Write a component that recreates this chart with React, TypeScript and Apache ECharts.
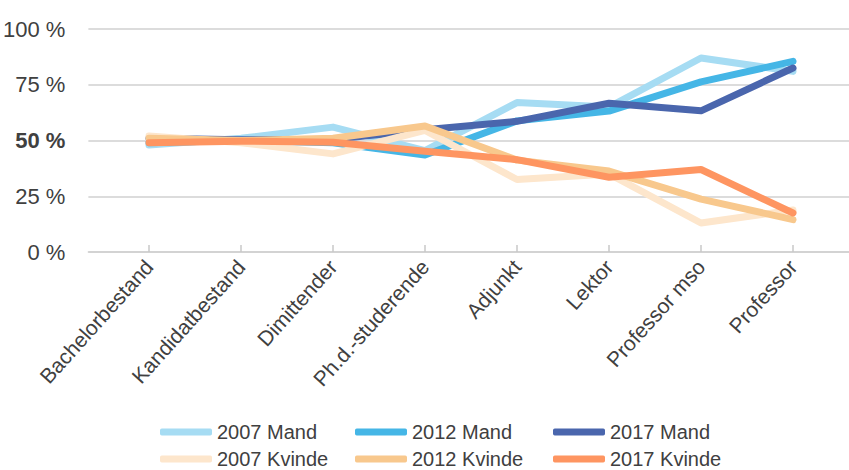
import React, { useEffect, useRef } from "react";
import * as echarts from "echarts";

const categories = [
  "Bachelorbestand",
  "Kandidatbestand",
  "Dimittender",
  "Ph.d.-studerende",
  "Adjunkt",
  "Lektor",
  "Professor mso",
  "Professor",
];

const mand2007 = [48, 51, 56, 45.5, 67, 65, 87, 81];
const mand2012 = [49, 50, 49, 43.5, 58.8, 63.2, 76.3, 85.5];
const mand2017 = [51, 50.3, 50.6, 54.8, 58.6, 66.7, 63.3, 82.5];
const kvinde2007 = [52, 49, 44, 54.5, 32.5, 35, 13, 18.8];
const kvinde2012 = [51, 50, 51, 56.5, 41.2, 36.3, 23.7, 14.5];
const kvinde2017 = [49, 49.7, 49.2, 45.2, 41.4, 33.5, 37, 17.5];

const yTicks = [0, 25, 50, 75, 100];

const FONT = '"Liberation Sans Narrow", "Liberation Sans", sans-serif';

const seriesDefs = [
  { name: "2007 Mand", data: mand2007, color: "#a6dcf3" },
  { name: "2012 Mand", data: mand2012, color: "#45b6e6" },
  { name: "2017 Mand", data: mand2017, color: "#4a66ad" },
  { name: "2007 Kvinde", data: kvinde2007, color: "#fde6cc" },
  { name: "2012 Kvinde", data: kvinde2012, color: "#f8c88d" },
  { name: "2017 Kvinde", data: kvinde2017, color: "#fe9561" },
];

const legendLefts = [160, 355, 553];
const legendTops = [422, 449];

export default function App() {
  const ref = useRef<HTMLDivElement>(null);
  useEffect(() => {
    if (!ref.current) return;
    const chart = echarts.init(ref.current, null, { renderer: "svg" });
    const legends = seriesDefs.map((s, i) => ({
      orient: "horizontal" as const,
      left: legendLefts[i % 3],
      top: legendTops[Math.floor(i / 3)],
      padding: 0,
      itemWidth: 52,
      itemHeight: 7,
      itemGap: 0,
      icon: "roundRect",
      data: [s.name],
      textStyle: {
        fontFamily: FONT,
        fontSize: 20,
        color: "#404040",
      },
    }));
    chart.setOption({
      animation: false,
      backgroundColor: "#ffffff",
      grid: [
        { left: 85, right: 0, top: 29, bottom: 218 },
        { left: 149, right: 56, top: 29, bottom: 218 },
      ],
      xAxis: [
        {
          type: "value",
          gridIndex: 0,
          min: 0,
          max: 1,
          axisLine: { show: true, lineStyle: { color: "#d0d0d0", width: 1.5 } },
          axisTick: { show: false },
          axisLabel: { show: false },
          splitLine: { show: false },
        },
        {
          type: "category",
          gridIndex: 1,
          data: categories,
          boundaryGap: false,
          axisLine: { show: false },
          axisTick: {
            show: true,
            inside: true,
            length: 7,
            lineStyle: { color: "#c8c8c8", width: 1.5 },
          },
          axisLabel: {
            rotate: 48,
            margin: 11,
            fontFamily: FONT,
            fontSize: 21,
            color: "#404040",
            interval: 0,
          },
          splitLine: { show: false },
        },
      ],
      yAxis: [
        {
          type: "value",
          gridIndex: 0,
          min: 0,
          max: 100,
          interval: 25,
          axisLine: { show: false },
          axisTick: { show: false },
          axisLabel: {
            margin: 23,
            fontFamily: FONT,
            fontSize: 22,
            color: "#404040",
            formatter: (v: number) =>
              yTicks.indexOf(v) === 2 ? `{b|${v} %}` : `${v} %`,
            rich: {
              b: {
                fontFamily: FONT,
                fontSize: 22,
                fontWeight: "bold",
                color: "#404040",
              },
            },
          },
          splitLine: { show: true, lineStyle: { color: "#d0d0d0", width: 1.5 } },
        },
        {
          type: "value",
          gridIndex: 1,
          min: 0,
          max: 100,
          interval: 25,
          show: false,
          splitLine: { show: false },
        },
      ],
      legend: legends,
      series: seriesDefs.map((s) => ({
        name: s.name,
        type: "line",
        xAxisIndex: 1,
        yAxisIndex: 1,
        data: s.data,
        color: s.color,
        symbol: "none",
        lineStyle: { width: 7, color: s.color, cap: "round", join: "round" },
        itemStyle: { color: s.color },
      })),
    });
    return () => chart.dispose();
  }, []);
  return (
    <div
      ref={ref}
      style={{ position: "absolute", left: 0, top: 0, width: 849, height: 470 }}
    />
  );
}
